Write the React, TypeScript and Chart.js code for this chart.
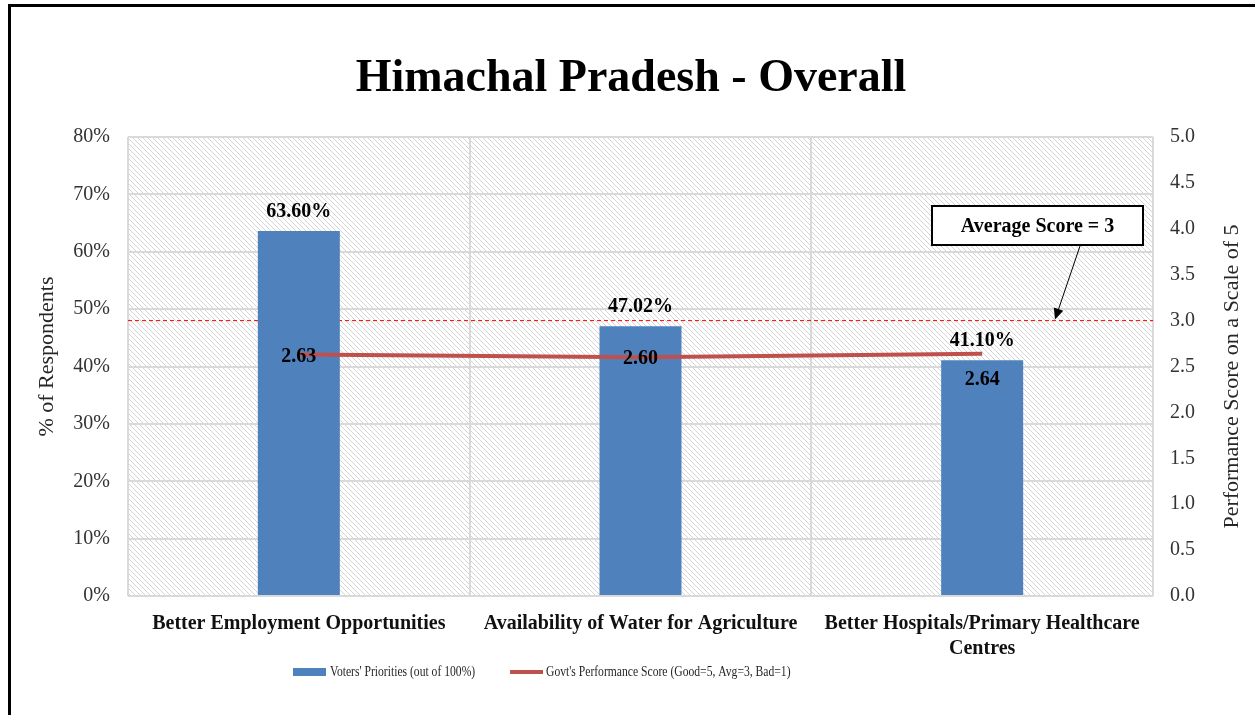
import React, { useEffect, useRef } from "react";
import { Chart, registerables } from "chart.js";

Chart.register(...registerables);

const chartTitle = "Himachal Pradesh - Overall";
const categories: (string | string[])[] = [
  "Better Employment Opportunities",
  "Availability of Water for Agriculture",
  ["Better Hospitals/Primary Healthcare", "Centres"],
];
const priorityLabel = "Voters' Priorities (out of 100%)";
const priorities = [63.6, 47.02, 41.1];
const scoreLabel = "Govt's Performance Score (Good=5, Avg=3, Bad=1)";
const scores = [2.63, 2.6, 2.64];
const averageScore = 3;
const averageLabel = "Average Score = 3";
const leftTitle = "% of Respondents";
const rightTitle = "Performance Score on a Scale of 5";

const BLUE = "#4F81BD";
const RED = "#C0504D";
const SERIF = "'Liberation Serif', 'Times New Roman', serif";
const scoreLabelDy = [2, 2, 26];

function makeHatch(ctx: CanvasRenderingContext2D) {
  const c = document.createElement("canvas");
  const s = 5;
  c.width = s;
  c.height = s;
  const g = c.getContext("2d")!;
  g.fillStyle = "#ffffff";
  g.fillRect(0, 0, s, s);
  g.strokeStyle = "#d4d4d4";
  g.lineWidth = 1;
  g.beginPath();
  g.moveTo(-1, -1);
  g.lineTo(s + 1, s + 1);
  g.moveTo(-1, s - 1);
  g.lineTo(1, s + 1);
  g.moveTo(s - 1, -1);
  g.lineTo(s + 1, 1);
  g.stroke();
  return ctx.createPattern(c, "repeat");
}

const decor = {
  id: "decor",
  beforeDraw(chart: any) {
    const { ctx, chartArea: a } = chart;
    ctx.save();
    ctx.fillStyle = "#fff";
    ctx.fillRect(0, 0, chart.width, chart.height);
    ctx.fillStyle = "#000";
    ctx.fillRect(8, 4, chart.width, 3);
    ctx.fillRect(8, 4, 3, chart.height);
    const p = makeHatch(ctx);
    if (p) {
      ctx.fillStyle = p;
      ctx.fillRect(a.left, a.top, a.right - a.left, a.bottom - a.top);
    }
    ctx.restore();
  },
  beforeDatasetsDraw(chart: any) {
    const { ctx, chartArea: a } = chart;
    const y = chart.scales.y2.getPixelForValue(averageScore);
    ctx.save();
    ctx.strokeStyle = "#FF0000";
    ctx.lineWidth = 1;
    ctx.setLineDash([4, 3]);
    ctx.beginPath();
    ctx.moveTo(a.left, y);
    ctx.lineTo(a.right, y);
    ctx.stroke();
    ctx.restore();
  },
  afterDatasetsDraw(chart: any) {
    const { ctx } = chart;
    ctx.save();
    ctx.fillStyle = "#000";
    ctx.font = `bold 20px ${SERIF}`;
    ctx.textAlign = "center";
    ctx.textBaseline = "middle";
    const bars = chart.getDatasetMeta(0).data;
    bars.forEach((b: any, i: number) => {
      ctx.fillText(priorities[i].toFixed(2) + "%", b.x, b.y - 19);
    });
    const pts = chart.getDatasetMeta(1).data;
    pts.forEach((pt: any, i: number) => {
      ctx.fillText(scores[i].toFixed(2), pt.x, pt.y + scoreLabelDy[i]);
    });
    ctx.restore();
  },
  afterDraw(chart: any) {
    const { ctx, chartArea: a } = chart;
    ctx.save();
    // title
    ctx.fillStyle = "#000";
    ctx.font = `bold 46px ${SERIF}`;
    ctx.textAlign = "center";
    ctx.textBaseline = "middle";
    ctx.fillText(chartTitle, 631, 79);
    // axis titles
    ctx.font = `22px ${SERIF}`;
    ctx.fillStyle = "#262626";
    ctx.save();
    ctx.translate(47, (a.top + a.bottom) / 2 - 10);
    ctx.rotate(-Math.PI / 2);
    ctx.fillText(leftTitle, 0, 0);
    ctx.restore();
    ctx.save();
    ctx.translate(1232, (a.top + a.bottom) / 2 + 10);
    ctx.rotate(-Math.PI / 2);
    ctx.fillText(rightTitle, 0, 0);
    ctx.restore();
    // annotation
    const y3 = chart.scales.y2.getPixelForValue(averageScore);
    const bx = a.right - 221, by = a.top + 69, bw = 211, bh = 39;
    ctx.fillStyle = "#fff";
    ctx.fillRect(bx, by, bw, bh);
    ctx.strokeStyle = "#000";
    ctx.lineWidth = 2;
    ctx.strokeRect(bx, by, bw, bh);
    ctx.fillStyle = "#000";
    ctx.font = `bold 20px ${SERIF}`;
    ctx.fillText(averageLabel, bx + bw / 2, by + bh / 2 + 1);
    const x0 = bx + 148, y0 = by + bh + 1, x1 = bx + 123, y1 = y3 - 1;
    const ang = Math.atan2(y1 - y0, x1 - x0);
    ctx.lineWidth = 1;
    ctx.beginPath();
    ctx.moveTo(x0, y0);
    ctx.lineTo(x1 - 9 * Math.cos(ang), y1 - 9 * Math.sin(ang));
    ctx.stroke();
    ctx.beginPath();
    ctx.moveTo(x1, y1);
    ctx.lineTo(x1 - 11 * Math.cos(ang) + 5 * Math.sin(ang), y1 - 11 * Math.sin(ang) - 5 * Math.cos(ang));
    ctx.lineTo(x1 - 11 * Math.cos(ang) - 5 * Math.sin(ang), y1 - 11 * Math.sin(ang) + 5 * Math.cos(ang));
    ctx.closePath();
    ctx.fill();
    // legend
    const ly = 672;
    ctx.textAlign = "left";
    ctx.fillStyle = BLUE;
    ctx.fillRect(293, ly - 4, 33, 8);
    ctx.strokeStyle = RED;
    ctx.lineWidth = 4;
    ctx.beginPath();
    ctx.moveTo(510, ly);
    ctx.lineTo(543, ly);
    ctx.stroke();
    ctx.font = `14px ${SERIF}`;
    ctx.fillStyle = "#262626";
    const sx = 0.83;
    ctx.save();
    ctx.translate(330, ly);
    ctx.scale(sx, 1);
    ctx.fillText(priorityLabel, 0, 0);
    ctx.restore();
    ctx.save();
    ctx.translate(546, ly);
    ctx.scale(sx, 1);
    ctx.fillText(scoreLabel, 0, 0);
    ctx.restore();
    ctx.restore();
  },
};

export default function App() {
  const ref = useRef<HTMLCanvasElement>(null);
  useEffect(() => {
    if (!ref.current) return;
    const chart = new Chart(ref.current, {
      type: "bar",
      data: {
        labels: categories,
        datasets: [
          {
            type: "bar",
            label: priorityLabel,
            data: priorities,
            backgroundColor: BLUE,
            barPercentage: 0.24,
            categoryPercentage: 1,
            yAxisID: "y",
            order: 1,
          },
          {
            type: "line",
            label: scoreLabel,
            data: scores,
            borderColor: RED,
            borderWidth: 4,
            pointRadius: 0,
            tension: 0,
            yAxisID: "y2",
            order: 0,
          } as any,
        ],
      },
      options: {
        responsive: false,
        animation: false,
        layout: { padding: { top: 137, left: 0, right: 0, bottom: 0 } },
        plugins: { legend: { display: false }, title: { display: false }, tooltip: { enabled: false } },
        scales: {
          x: {
            offset: true,
            grid: { offset: true, color: "#d9d9d9", lineWidth: 2, drawTicks: false },
            border: { display: false },
            ticks: {
              padding: 15,
              color: "#111",
              font: { family: SERIF, size: 20, weight: "bold", lineHeight: 1.25 },
              maxRotation: 0,
              autoSkip: false,
            },
            afterFit(s: any) {
              s.height = 119;
            },
          },
          y: {
            position: "left",
            min: 0,
            max: 80,
            ticks: {
              stepSize: 10,
              padding: 18,
              color: "#333",
              font: { family: SERIF, size: 20 },
              callback: (v: any) => v + "%",
            },
            grid: { color: "#d9d9d9", lineWidth: 2, drawTicks: false },
            border: { display: false },
            afterFit(s: any) {
              s.width = 128;
            },
          },
          y2: {
            position: "right",
            min: 0,
            max: 5,
            ticks: {
              stepSize: 0.5,
              padding: 17,
              color: "#333",
              font: { family: SERIF, size: 20 },
              callback: (v: any) => Number(v).toFixed(1),
            },
            grid: { display: false, drawTicks: false },
            border: { display: false },
            afterFit(s: any) {
              s.width = 102;
            },
          },
        },
      } as any,
      plugins: [decor],
    });
    return () => chart.destroy();
  }, []);
  return (
    <div style={{ position: "fixed", left: 0, top: 0, width: 1255, height: 715 }}>
      <canvas ref={ref} width={1255} height={715} style={{ display: "block" }} />
    </div>
  );
}
